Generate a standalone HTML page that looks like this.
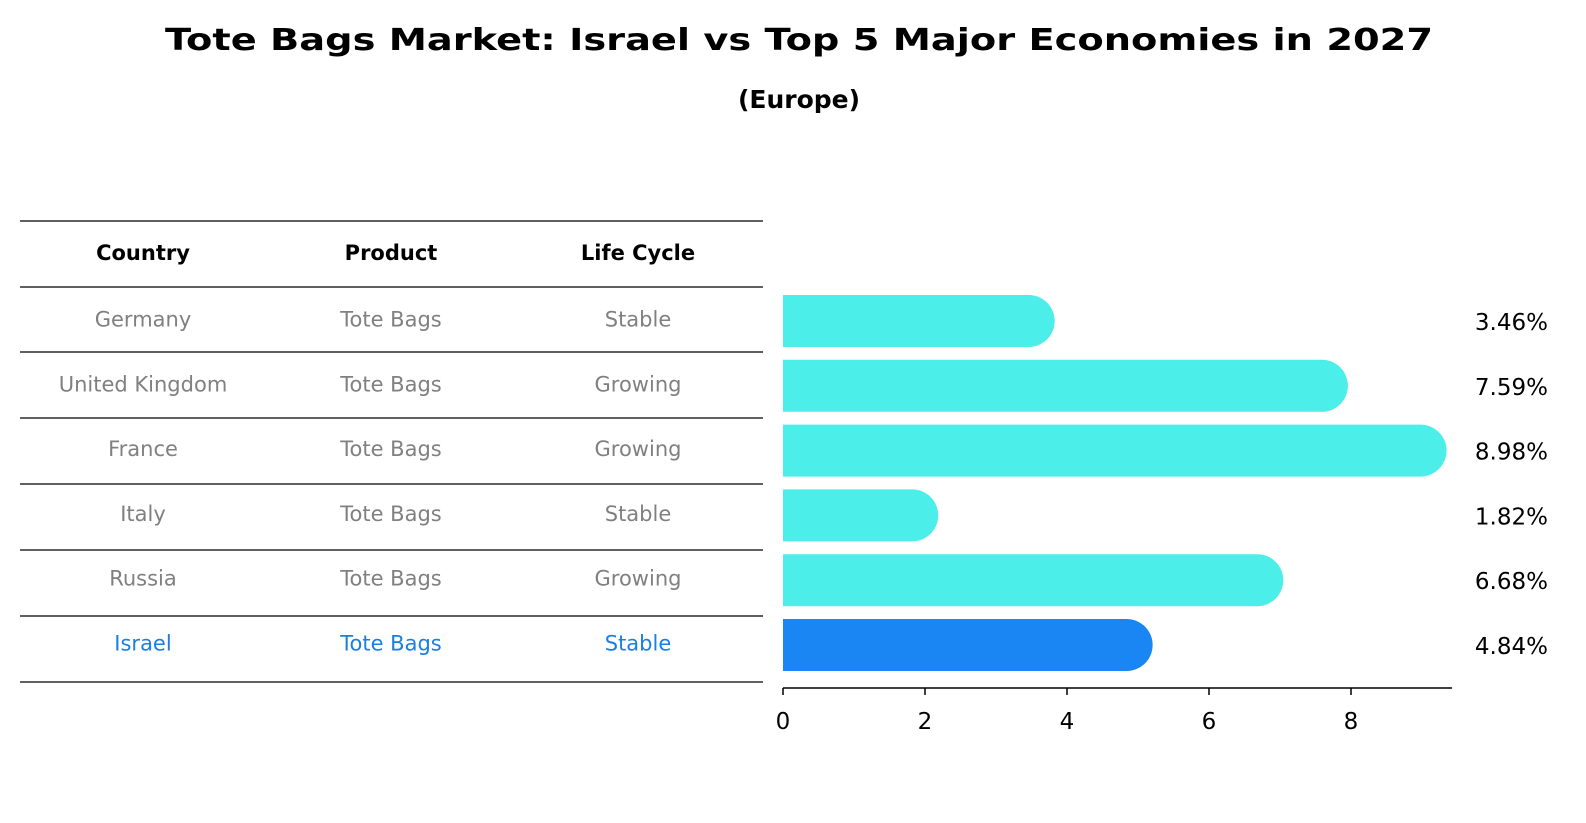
<!DOCTYPE html>
<html><head><meta charset="utf-8"><style>
html,body{margin:0;padding:0;background:#fff;}
svg{display:block;font-family:"DejaVu Sans","Liberation Sans",sans-serif;}
</style></head><body>
<svg id="chart" width="1586" height="823" viewBox="0 0 1586 823">
<text x="799" y="50" text-anchor="middle" font-size="30" font-weight="bold" textLength="1268" lengthAdjust="spacingAndGlyphs">Tote Bags Market: Israel vs Top 5 Major Economies in 2027</text>
<text x="799" y="108" text-anchor="middle" font-size="25" font-weight="bold">(Europe)</text>
<g id="table"></g>
<g id="bars"></g>
<g id="axis"></g>
</svg>
<script>
const countries=["Germany","United Kingdom","France","Italy","Russia","Israel"];
const products=["Tote Bags","Tote Bags","Tote Bags","Tote Bags","Tote Bags","Tote Bags"];
const lifeCycles=["Stable","Growing","Growing","Stable","Growing","Stable"];
const values=[3.46,7.59,8.98,1.82,6.68,4.84];
const valueLabels=["3.46%","7.59%","8.98%","1.82%","6.68%","4.84%"];
const ticks=[0,2,4,6,8];

const NS="http://www.w3.org/2000/svg";
function mk(tag,attrs,parent,txt){const e=document.createElementNS(NS,tag);for(const k in attrs)e.setAttribute(k,attrs[k]);if(txt!==undefined)e.textContent=txt;parent.appendChild(e);return e;}
const x0=783,pxPer=71;
const xs=v=>x0+v*pxPer;
const rowY=i=>321+i*64.8;
const table=document.getElementById('table');
const lineYs=[221,287,352,418,484,550,616,682];
const colX=[143,391,638];
lineYs.forEach((y,i)=>{const l=mk('line',{x1:20,x2:763,y1:y,y2:y,stroke:'#000','stroke-width':1.2},table);

});
["Country","Product","Life Cycle"].forEach((h,j)=>{const t=mk('text',{x:colX[j],y:260,'text-anchor':'middle','font-size':21,'font-weight':'bold'},table,h);

});
countries.forEach((c,i)=>{
 const last=i===countries.length-1;
 const col=last?'#1a7fe0':'#808080';
 [c,products[i],lifeCycles[i]].forEach((v,j)=>{
  const t=mk('text',{x:colX[j],y:rowY(i)+5.5,'text-anchor':'middle','font-size':21,fill:col},table,v);
  
  
 });
});
const bars=document.getElementById('bars');
const h=52,r=26;
values.forEach((v,i)=>{
 const last=i===values.length-1;
 const col=last?'#1a86f4':'#4beee9';
 const yT=rowY(i)-h/2, xe=xs(v);
 const p=mk('path',{d:`M${x0},${yT} H${xe} A${r},${r} 0 0 1 ${xe},${yT+h} H${x0} Z`,fill:col},bars);
 
 
 const t=mk('text',{x:1548,y:rowY(i)+9,'text-anchor':'end','font-size':23},bars,valueLabels[i]);
 
 
});
const axis=document.getElementById('axis');
const al=mk('line',{x1:x0,x2:1452,y1:688,y2:688,stroke:'#000','stroke-width':1.5},axis);


ticks.forEach(t=>{
 const l=mk('line',{x1:xs(t),x2:xs(t),y1:688,y2:695,stroke:'#000','stroke-width':1.5},axis);
 
 
 const tx=mk('text',{x:xs(t),y:729,'text-anchor':'middle','font-size':23},axis,String(t));
 
 
});
</script>
</body></html>
